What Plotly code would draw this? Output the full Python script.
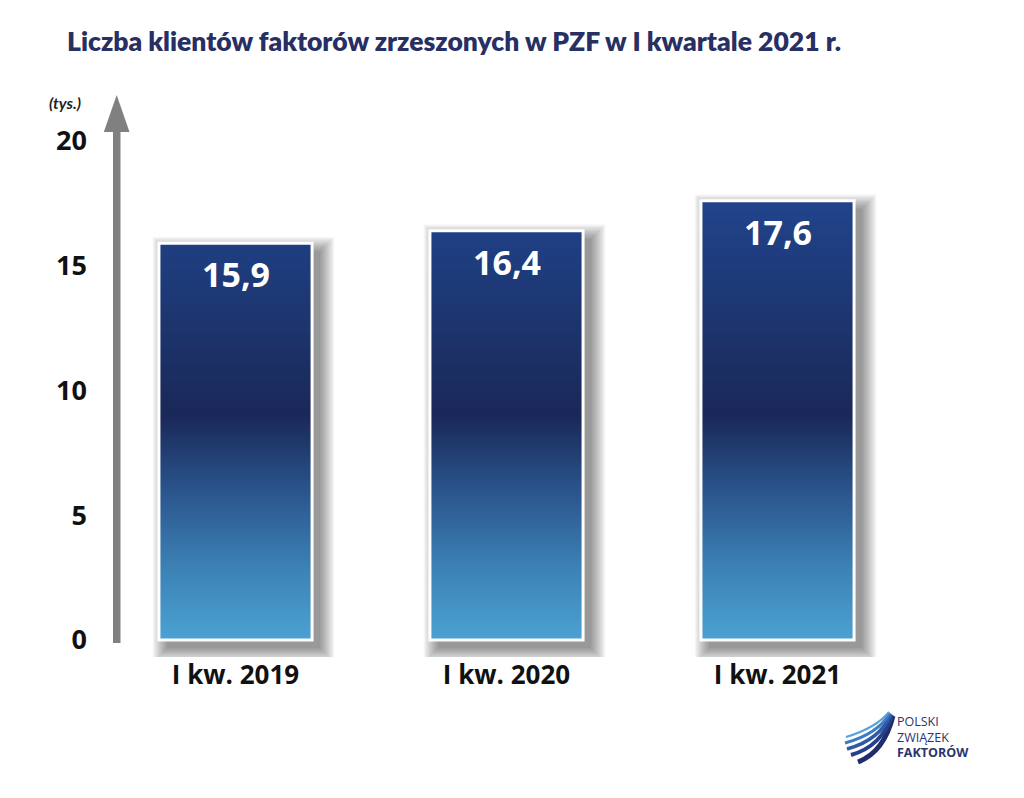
import plotly.graph_objects as go
import numpy as np

# ---------------- data ----------------
categories = ["I kw. 2019", "I kw. 2020", "I kw. 2021"]
values = [15.9, 16.4, 17.6]
y_ticks = [0, 5, 10, 15, 20]
title_text = "Liczba klientów faktorów zrzeszonych w PZF w I kwartale 2021 r."
unit_text = "(tys.)"
logo_lines = ["POLSKI", "ZWIĄZEK", "<b>FAKTORÓW</b>"]

# ---------------- layout constants ----------------
W, H = 1024, 798
PPY_TARGET = 24.96
Y_RANGE = [-0.68, 22.0]
L, R, T = 100, 111, 91
B = round(H - T - (Y_RANGE[1] - Y_RANGE[0]) * PPY_TARGET)
BAR_W = 0.565
PPX = (W - L - R) / len(categories)            # px per category
PPY = (H - T - B) / (Y_RANGE[1] - Y_RANGE[0])  # px per y unit

def px2x(px):
    return (px - L) / (W - L - R)

def px2y(py):
    return (H - B - py) / (H - T - B)

# gradient stops (y value -> rgb)
grad_stops = [(0, (75, 162, 210)), (3, (60, 128, 180)), (6, (42, 84, 140)),
              (9, (26, 40, 88)), (13, (29, 54, 112)), (18, (33, 69, 142))]

def grad_color(v):
    for (a, ca), (b, cb) in zip(grad_stops[:-1], grad_stops[1:]):
        if v <= b:
            t = (v - a) / (b - a)
            c = [round(ca[i] + (cb[i] - ca[i]) * t) for i in range(3)]
            return f"rgb({c[0]},{c[1]},{c[2]})"
    c = grad_stops[-1][1]
    return f"rgb({c[0]},{c[1]},{c[2]})"

fig = go.Figure()

# ---- soft drop shadows ----
dx, dy = 8, 8
for i in range(12):
    e = 1.3 * i
    base = -(dy + e) / PPY
    fig.add_trace(go.Bar(
        x=categories,
        y=[v + (e - dy) / PPY - base for v in values],
        base=[base] * len(values),
        width=BAR_W + 2 * e / PPX,
        offset=-(BAR_W / 2) - e / PPX + dx / PPX,
        marker=dict(color="rgba(0,0,0,0.04)", line=dict(width=0)),
        hoverinfo="skip", showlegend=False,
    ))

# ---- gradient bars (stacked thin segments) ----
step = 0.1
seg_x, seg_base, seg_h, seg_c = [], [], [], []
for cat, v in zip(categories, values):
    n = int(np.ceil(v / step - 1e-9))
    for k in range(n):
        b0 = k * step
        h = min(step, v - b0)
        seg_x.append(cat)
        seg_base.append(b0)
        seg_h.append(h + 0.03 if k < n - 1 else h)
        seg_c.append(grad_color(b0 + h / 2))
fig.add_trace(go.Bar(
    x=seg_x, y=seg_h, base=seg_base, width=BAR_W,
    marker=dict(color=seg_c, line=dict(width=0)),
    hoverinfo="skip", showlegend=False,
))

# ---- white outline ----
fig.add_trace(go.Bar(
    x=categories, y=values, width=BAR_W,
    marker=dict(color="rgba(0,0,0,0)", line=dict(color="white", width=3)),
    showlegend=False,
))

# ---- value labels ----
for cat, v in zip(categories, values):
    fig.add_annotation(
        x=cat, y=v, yshift=-31, showarrow=False, yanchor="middle",
        text=f"{v:.1f}".replace(".", ","),
        font=dict(family="Open Sans", size=34, color="white", weight=700),
    )

# ---- unit label ----
fig.add_annotation(
    xref="paper", yref="paper", x=px2x(65), y=px2y(102), showarrow=False,
    text=unit_text, xanchor="center", yanchor="middle",
    font=dict(family="Lato", size=16, color="#222222", weight=700, style="italic"),
)

# ---- axis arrow ----
shapes = []
shapes.append(dict(type="rect", xref="paper", yref="paper",
                   x0=px2x(113), x1=px2x(120.5), y0=px2y(643), y1=px2y(128),
                   fillcolor="#808080", line=dict(width=0)))
shapes.append(dict(type="path", xref="paper", yref="paper",
                   path=f"M {px2x(116.7)},{px2y(95)} L {px2x(129.5)},{px2y(132)} L {px2x(103.8)},{px2y(132)} Z",
                   fillcolor="#808080", line=dict(width=0)))

# ---- logo swoosh ----
swoosh = [
    ((858, 762), (884, 752), (893, 716), "#1f2d6b", 5),
    ((851, 755), (882, 746), (892, 715), "#27408a", 4),
    ((847, 749), (880, 740), (891, 714), "#2f5aa6", 3.5),
    ((845, 743), (878, 734), (890, 713), "#3b7cc4", 3),
    ((846, 737), (876, 728), (889, 712), "#5aa0da", 2),
]
for (x0, y0), (cx, cy), (x1, y1), col, wdt in swoosh:
    shapes.append(dict(type="path", xref="paper", yref="paper",
                       path=f"M {px2x(x0)},{px2y(y0)} Q {px2x(cx)},{px2y(cy)} {px2x(x1)},{px2y(y1)}",
                       line=dict(color=col, width=wdt)))

for txt, py in zip(logo_lines, [721, 737, 752]):
    fig.add_annotation(
        xref="paper", yref="paper", x=px2x(895), y=px2y(py), showarrow=False,
        text=txt, xanchor="left", yanchor="middle",
        font=dict(family="Open Sans", size=12.5, color="#2a3570"),
    )

fig.update_layout(
    width=W, height=H,
    margin=dict(l=L, r=R, t=T, b=B, autoexpand=False),
    paper_bgcolor="white", plot_bgcolor="white",
    barmode="overlay",
    shapes=shapes,
    title=dict(text=title_text, x=67 / W, xanchor="left", xref="container",
               y=1 - 42 / H, yanchor="middle", yref="container",
               font=dict(family="Lato", size=26.5, color="#272f63", weight=800)),
    xaxis=dict(showgrid=False, zeroline=False, showline=False, ticks="",
               tickfont=dict(family="Open Sans", size=26, color="#111111", weight=700),
               ticklabelstandoff=0),
    yaxis=dict(range=Y_RANGE, tickvals=y_ticks, ticktext=[str(t) for t in y_ticks],
               showgrid=False, zeroline=False, showline=False, ticks="",
               tickfont=dict(family="Open Sans", size=27, color="#111111", weight=700),
               ticklabelstandoff=12),
    hovermode=False,
)

fig.write_html("out.html")
